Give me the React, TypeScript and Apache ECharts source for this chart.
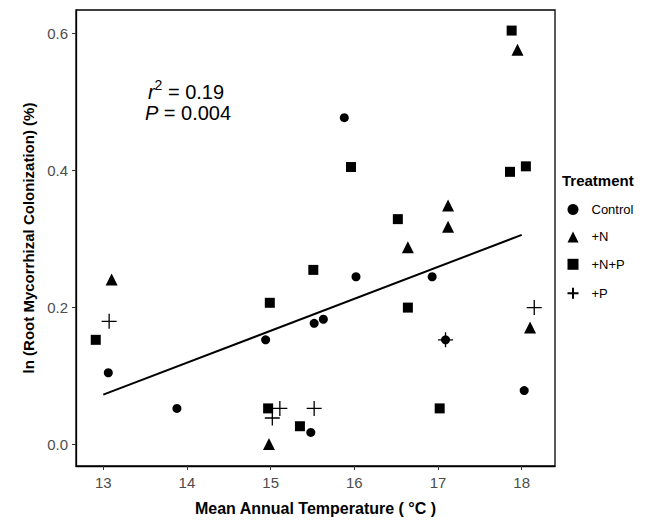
import React, { useEffect, useRef } from "react";
import * as echarts from "echarts";

const xTicks = [13, 14, 15, 16, 17, 18];
const yTicks = [0, 0.2, 0.4, 0.6];

const controlX = [13.06, 13.88, 14.94, 15.88, 15.48, 15.52, 15.63, 16.02, 16.93, 18.03, 17.09];
const controlY = [0.105, 0.053, 0.153, 0.477, 0.018, 0.177, 0.183, 0.245, 0.245, 0.079, 0.153];

const nX = [13.1, 14.98, 17.12, 17.12, 16.64, 17.95, 18.1];
const nY = [0.241, 0.001, 0.349, 0.318, 0.288, 0.576, 0.171];

const npX = [12.91, 14.99, 14.97, 15.96, 15.51, 16.52, 16.64, 15.35, 17.02, 17.88, 17.86, 18.05];
const npY = [0.153, 0.207, 0.053, 0.405, 0.255, 0.329, 0.2, 0.027, 0.053, 0.604, 0.398, 0.406];

const pX = [13.07, 15.11, 15.02, 15.52, 17.09, 18.15];
const pY = [0.18, 0.053, 0.039, 0.053, 0.153, 0.2];

const fitX = [13.0, 18.0];
const fitY = [0.073, 0.306];

const FONT = "'Liberation Sans', Arial, sans-serif";
const CROSS = "path://M0 5H10M5 0V10";

const zip = (xs: number[], ys: number[]) => xs.map((x, i) => [x, ys[i]]);

export default function App() {
  const ref = useRef<HTMLDivElement>(null);
  useEffect(() => {
    if (!ref.current) return;
    const chart = echarts.init(ref.current, undefined, { renderer: "svg" });
    chart.setOption({
      animation: false,
      backgroundColor: "#fff",
      textStyle: { fontFamily: FONT },
      grid: {
        left: 76,
        top: 10,
        right: 97,
        bottom: 53,
        show: true,
        borderColor: "#000",
        borderWidth: 1.3,
        backgroundColor: "transparent",
      },
      xAxis: {
        type: "value",
        min: 12.674,
        max: 18.398,
        name: "Mean Annual Temperature ( °C )",
        nameLocation: "middle",
        nameGap: 34,
        nameTextStyle: { fontFamily: FONT, fontSize: 16, fontWeight: "bold", color: "#000", verticalAlign: "top" },
        axisLine: { show: true, onZero: false, lineStyle: { color: "#000", width: 1.3 } },
        axisTick: { show: true, length: 4, customValues: xTicks, lineStyle: { color: "#333" } },
        axisLabel: { customValues: xTicks, fontSize: 15, color: "#4d4d4d", margin: 9, fontFamily: FONT },
        splitLine: { show: false },
      },
      yAxis: {
        type: "value",
        min: -0.031,
        max: 0.634,
        name: "ln (Root Mycorrhizal Colonization) (%)",
        nameLocation: "middle",
        nameGap: 39,
        nameRotate: 90,
        nameTextStyle: { fontFamily: FONT, fontSize: 15, fontWeight: "bold", color: "#000" },
        axisLine: { show: true, onZero: false, lineStyle: { color: "#000", width: 1.3 } },
        axisTick: { show: true, length: 4, customValues: yTicks, lineStyle: { color: "#333" } },
        axisLabel: {
          customValues: yTicks,
          fontSize: 15,
          color: "#4d4d4d",
          margin: 8,
          fontFamily: FONT,
          formatter: (v: number) => v.toFixed(1),
        },
        splitLine: { show: false },
      },
      legend: {
        orient: "vertical",
        left: 560,
        top: 198,
        itemWidth: 11,
        itemHeight: 11,
        itemGap: 14.4,
        textStyle: { fontSize: 13, color: "#000", fontFamily: FONT, padding: [0, 0, 0, 8] },
        data: ["Control", "+N", "+N+P", "+P"],
      },
      graphic: [
        {
          type: "text",
          left: 562,
          top: 173,
          style: { text: "Treatment", font: `bold 15px ${FONT}`, fill: "#000" },
        },
        {
          type: "text",
          x: 186,
          y: 90,
          style: {
            text: "{i|r}{s|2}{n| = 0.19}",
            align: "center",
            verticalAlign: "middle",
            rich: {
              i: { fontStyle: "italic", fontSize: 20, fontFamily: FONT, fill: "#000", lineHeight: 24, verticalAlign: "bottom" },
              s: { fontSize: 14, fontFamily: FONT, fill: "#000", lineHeight: 24, verticalAlign: "top" },
              n: { fontSize: 20, fontFamily: FONT, fill: "#000", lineHeight: 24, verticalAlign: "bottom" },
            },
          },
        },
        {
          type: "text",
          x: 188,
          y: 113,
          style: {
            text: "{i|P}{n| = 0.004}",
            align: "center",
            verticalAlign: "middle",
            rich: {
              i: { fontStyle: "italic", fontSize: 20, fontFamily: FONT, fill: "#000" },
              n: { fontSize: 20, fontFamily: FONT, fill: "#000" },
            },
          },
        },
      ],
      series: [
        {
          name: "fit",
          type: "line",
          data: zip(fitX, fitY),
          symbol: "none",
          lineStyle: { color: "#000", width: 2 },
          z: 1,
          silent: true,
        },
        {
          name: "Control",
          type: "scatter",
          data: zip(controlX, controlY),
          symbol: "circle",
          symbolSize: 9,
          itemStyle: { color: "#000", opacity: 1 },
          z: 3,
        },
        {
          name: "+N",
          type: "scatter",
          data: zip(nX, nY),
          symbol: "triangle",
          symbolSize: 12,
          itemStyle: { color: "#000", opacity: 1 },
          z: 3,
        },
        {
          name: "+N+P",
          type: "scatter",
          data: zip(npX, npY),
          symbol: "rect",
          symbolSize: 10,
          itemStyle: { color: "#000", opacity: 1 },
          z: 3,
        },
        {
          name: "+P",
          type: "scatter",
          data: zip(pX, pY),
          symbol: CROSS,
          symbolSize: 15,
          itemStyle: { color: "none", borderColor: "#000", borderWidth: 1.3, opacity: 1 },
          z: 4,
        },
      ],
    });
    return () => chart.dispose();
  }, []);
  return <div ref={ref} style={{ width: 652, height: 521, position: "absolute", left: 0, top: 0 }} />;
}
